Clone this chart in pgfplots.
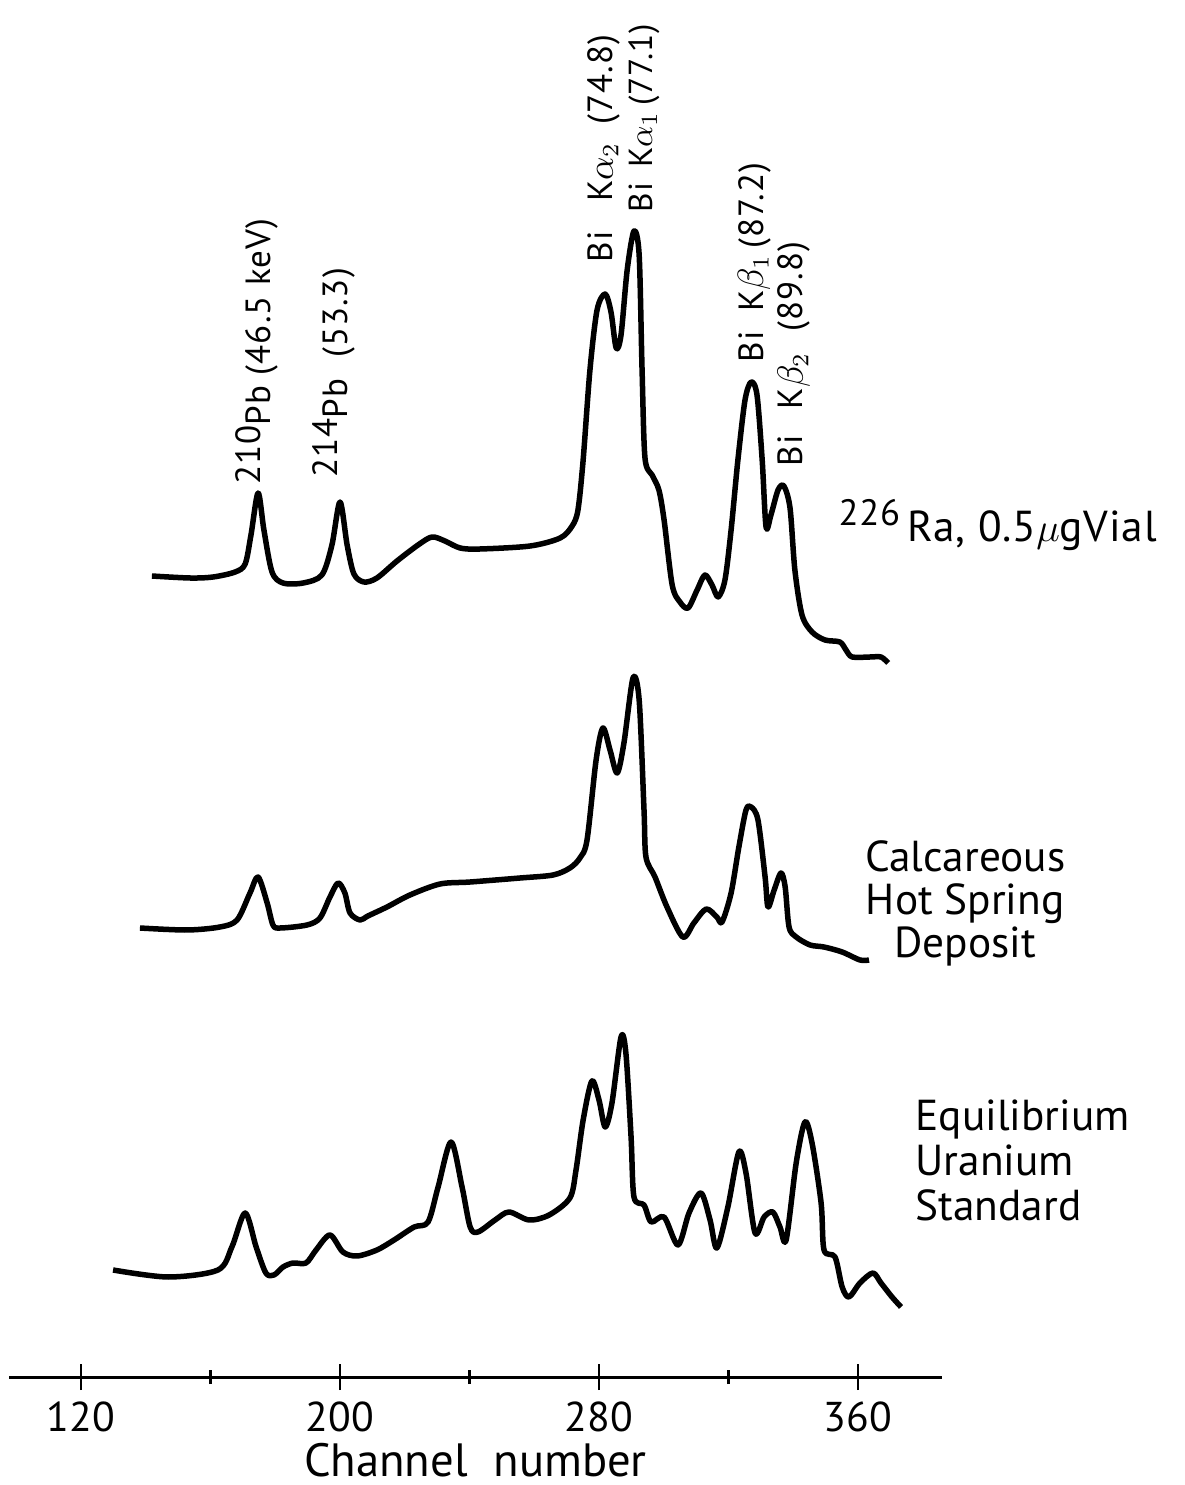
\documentclass[border=0pt]{standalone}
\usepackage{pgfplots}
\pgfplotsset{compat=1.18}
\usepackage{fontspec}
\setmainfont{PT Sans}
\newfontfamily\lbl[LetterSpace=3]{PT Sans}
\newfontfamily\wide[LetterSpace=2]{PT Sans}

\begin{document}
\begin{tikzpicture}
\begin{axis}[
    scale only axis, width=279.9pt, height=413.1pt,
    xmin=97.76, xmax=385.94, ymin=0, ymax=1377,
    axis x line=bottom, axis y line=none,
    x axis line style={-, line width=0.9pt},
    xtick={120,200,280,360}, minor xtick={160,240,320},
    tick align=center, major tick length=7.8pt, minor tick length=4.2pt,
    every tick/.style={black, line width=0.8pt},
    /pgf/number format/assume math mode=true,
    xticklabel style={font=\fontsize{12.5}{14}\selectfont, anchor=base, yshift=-12.6pt},
    xlabel={Channel\hspace{0.55em}number},
    xlabel style={font=\fontsize{14}{16}\selectfont, at={(axis description cs:0.5,0)}, anchor=base, inner sep=0pt, yshift=-29.8pt},
    clip=false,
]
% corners of the page, same size as the reference
\coordinate (pagesw) at (axis cs:94.98,-108);
\coordinate (pagene) at (axis cs:460.69,1377);

% 226Ra vial
\addplot[black, line width=1.65pt, smooth, line join=round] coordinates {
(141.9,801)(153.7,799)(160.8,800)(167.6,805)(170.7,813)(172.5,842)(174.7,884)(176.5,847)(179.0,805)(182.4,794)(188.6,794)(194.4,802)(197.5,832)(200.0,875)(202.2,832)(204.3,803)(207.4,795)(211.4,799)(217.6,816)(224.1,832)(228.4,840)(232.4,836)(237.1,829)(243.2,828)(258.7,831)(268.0,839)(271.7,851)(273.5,867)(275.1,917)(277.2,1007)(279.4,1067)(281.9,1083)(283.7,1065)(285.3,1029)(286.8,1042)(288.7,1107)(290.8,1146)(292.4,1122)(293.3,1007)(294.2,919)(296.4,902)(298.5,887)(300.1,857)(302.6,792)(305.0,775)(307.5,769)(310.3,787)(312.7,802)(314.9,792)(316.8,780)(318.9,797)(320.8,847)(322.9,917)(325.1,977)(327.0,995)(328.8,982)(330.4,917)(331.6,850)(333.1,862)(335.3,887)(337.1,891)(339.0,869)(340.5,807)(342.7,762)(345.8,745)(349.8,737)(354.4,735)(356.3,727)(358.2,720)(363.7,720)(367.1,720)(369.3,714)
};

% hot spring deposit
\addplot[black, line width=1.65pt, smooth, line join=round] coordinates {
(138.2,449)(152.7,447)(162.9,450)(168.2,457)(172.2,484)(174.7,500)(177.5,474)(179.3,452)(181.5,449)(189.8,452)(193.8,459)(196.9,480)(199.4,494)(201.5,484)(203.1,464)(206.2,457)(208.6,461)(214.5,470)(221.6,482)(230.9,493)(240.2,495)(255.6,499)(265.8,502)(271.0,509)(274.1,519)(276.3,537)(279.1,617)(281.2,649)(283.4,627)(285.6,604)(287.7,634)(290.5,699)(292.4,677)(293.9,567)(294.5,520)(297.3,500)(301.0,470)(305.9,440)(309.3,454)(313.1,468)(316.4,460)(318.0,455)(320.8,484)(323.2,530)(325.4,567)(327.0,570)(329.1,557)(331.3,500)(332.2,470)(334.1,487)(336.2,504)(337.5,490)(338.7,450)(340.9,440)(345.2,432)(349.5,430)(355.1,425)(360.6,417)(363.4,417)
};

% uranium standard
\addplot[black, line width=1.65pt, smooth, line join=round] coordinates {
(129.9,107)(146.9,100)(162.3,107)(166.6,130)(170.7,164)(174.1,130)(177.1,104)(179.6,102)(182.4,110)(185.5,114)(189.5,114)(192.6,127)(196.9,142)(200.9,125)(205.3,121)(211.4,127)(216.7,137)(222.9,150)(227.2,155)(230.3,190)(234.3,235)(237.7,190)(240.2,150)(242.6,145)(247.9,157)(252.2,165)(258.4,157)(264.6,162)(271.0,179)(272.9,207)(275.1,257)(277.8,296)(280.0,277)(281.9,250)(284.0,274)(286.8,340)(288.3,324)(289.9,240)(290.8,180)(293.9,172)(296.1,155)(300.1,160)(304.4,132)(307.8,164)(311.5,184)(314.3,157)(316.4,129)(319.8,170)(323.2,225)(325.4,204)(328.2,144)(331.0,160)(333.7,165)(335.9,150)(337.8,137)(340.9,214)(343.6,255)(345.8,234)(348.6,174)(349.5,127)(352.9,120)(355.1,90)(357.2,80)(360.6,94)(364.6,104)(367.1,94)(370.5,80)(373.3,70)
};

% peak labels
\begin{scope}[every node/.style={font=\lbl\fontsize{10.5}{12}\selectfont, rotate=90, anchor=base west, inner sep=0pt}]
\node at (axis cs:178.4,892) {\raisebox{0.55ex}{210}Pb (46.5 keV)};
\node at (axis cs:202.2,899) {\raisebox{0.55ex}{214}Pb\ \ (53.3)};
\node at (axis cs:284.3,1114) {Bi\hspace{0.85em}K$\alpha_2$\hspace{0.5em}(74.8)};
\node[font=\lbl\fontsize{10}{12}\selectfont] at (axis cs:296.4,1164) {Bi\hspace{0.45em}K$\alpha_1$\,(77.1)};
\node at (axis cs:330.7,1014) {Bi\hspace{0.57em}K$\beta_1$\,(87.2)};
\node at (axis cs:343.0,910) {Bi\hspace{0.75em}K$\beta_2$\hspace{0.6em}(89.8)};
\end{scope}

% sample labels
\node[font=\wide\fontsize{13}{15}\selectfont, anchor=west, inner sep=0pt] at (axis cs:353.8,852) {\raisebox{0.75ex}{\fontsize{11}{12}\selectfont 226}\,Ra, 0.5$\mu$gVial};
\node[font=\fontsize{13}{12.9}\selectfont, align=center, inner sep=0pt] at (axis cs:393.1,474) {Calcareous\\Hot Spring\\Deposit};
\node[font=\fontsize{13}{13.5}\selectfont, align=left, anchor=west, inner sep=0pt] at (axis cs:377.6,217) {Equilibrium\\Uranium\\Standard};
\end{axis}
\pgfresetboundingbox
\path (pagesw) rectangle (pagene);
\end{tikzpicture}
\end{document}
